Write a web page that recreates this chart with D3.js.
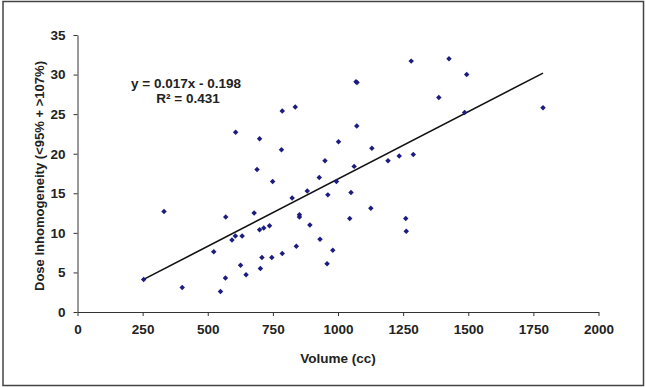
<!DOCTYPE html>
<html><head><meta charset="utf-8">
<script src="https://cdn.jsdelivr.net/npm/d3@7"></script>
<style>
html,body{margin:0;padding:0;background:#fff;}
text{font-family:"Liberation Sans",Arial,sans-serif;font-weight:bold;fill:#222;}
</style></head><body>
<script>
const volume = [254,332,402,523,549,568,569,593,606,607,626,632,647,678,689,699,702,699,708,715,737,746,749,783,786,786,824,836,840,852,852,882,892,928,931,950,958,961,980,994,1002,1045,1050,1062,1069,1073,1072,1126,1130,1192,1235,1260,1262,1281,1289,1387,1426,1486,1494,1787];
const inhomogeneity = [4.1,12.7,3.1,7.6,2.6,4.3,12.0,9.1,9.6,22.7,5.9,9.6,4.7,12.5,18.0,10.4,5.5,21.9,6.9,10.6,10.9,6.9,16.5,20.5,25.4,7.4,14.4,25.9,8.3,12.3,12.0,15.3,11.0,17.0,9.2,19.1,6.1,14.8,7.8,16.5,21.5,11.8,15.1,18.4,29.1,29.0,23.5,13.1,20.7,19.1,19.7,11.8,10.2,31.7,19.9,27.1,32.0,25.2,30.0,25.8];
const xTicks = [0,250,500,750,1000,1250,1500,1750,2000];
const yTicks = [0,5,10,15,20,25,30,35];
const trendSlope = 0.017, trendIntercept = -0.198;
const equationLines = ["y = 0.017x - 0.198", "R² = 0.431"];

const W = 646, H = 387;
const svg = d3.select("body").append("svg").attr("width", W).attr("height", H);
svg.append("rect").attr("x",3).attr("y",1.5).attr("width",640.5).attr("height",384)
  .attr("fill","none").attr("stroke","#444").attr("stroke-width",1.5);

const x = d3.scaleLinear().domain([0,2000]).range([77.5,598.5]);
const y = d3.scaleLinear().domain([0,35]).range([312,35]);

const gx = svg.append("g").attr("transform","translate(0,312)")
  .call(d3.axisBottom(x).tickValues(xTicks).tickFormat(d3.format("d")).tickSize(4).tickSizeOuter(0).tickPadding(8));
const gy = svg.append("g").attr("transform","translate(77.5,0)")
  .call(d3.axisLeft(y).tickValues(yTicks).tickFormat(d3.format("d")).tickSize(4).tickSizeOuter(0).tickPadding(8));
[gx,gy].forEach(g=>{
  g.select(".domain").attr("stroke","#333").attr("stroke-width",1);
  g.selectAll(".tick line").attr("stroke","#333");
  g.selectAll("text").attr("font-size",13.5).attr("fill","#222")
   .style("font-family",'"Liberation Sans",Arial,sans-serif').style("font-weight","bold");
});

svg.append("text").attr("x",(x(0)+x(2000))/2).attr("y",363).attr("text-anchor","middle")
  .attr("font-size",13.5).text("Volume (cc)");
svg.append("text").attr("transform",`translate(44,176) rotate(-90)`)
  .attr("text-anchor","middle").attr("font-size",13.5)
  .attr("textLength",230).attr("lengthAdjust","spacingAndGlyphs")
  .text("Dose Inhomogeneity (<95% + >107%)");

const x0 = d3.min(volume), x1 = d3.max(volume);
svg.append("line").attr("x1",x(x0)).attr("y1",y(trendSlope*x0+trendIntercept))
  .attr("x2",x(x1)).attr("y2",y(trendSlope*x1+trendIntercept))
  .attr("stroke","#111").attr("stroke-width",1.6);

const sym = d3.symbol().type(d3.symbolSquare).size(15);
svg.append("g").selectAll("path").data(volume).join("path")
  .attr("transform",(d,i)=>`translate(${x(d)},${y(inhomogeneity[i])}) rotate(45)`)
  .attr("d",sym).attr("fill","#1c1c80");

svg.append("text").attr("x",186).attr("y",88).attr("text-anchor","middle").attr("font-size",13.5).text(equationLines[0]);
svg.append("text").attr("x",188).attr("y",103).attr("text-anchor","middle").attr("font-size",13.5).text(equationLines[1]);
</script></body></html>
